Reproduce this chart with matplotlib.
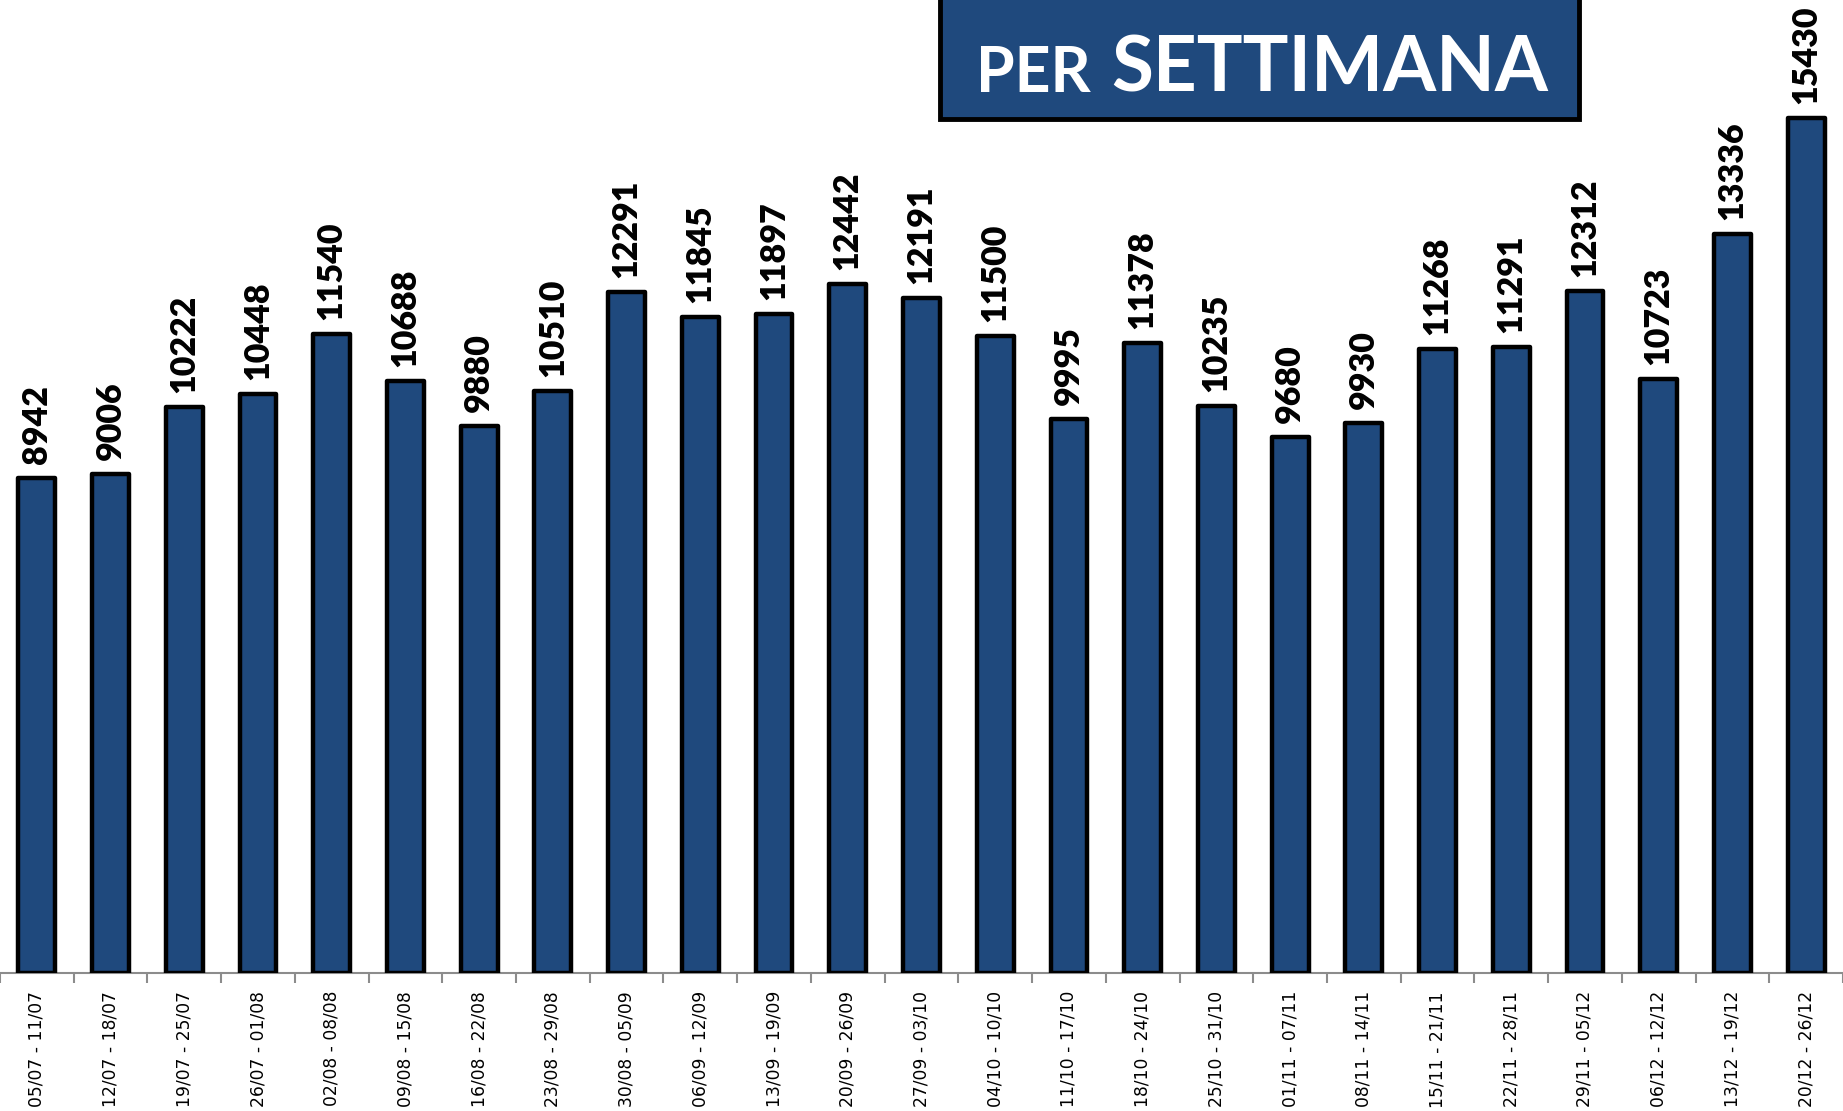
import matplotlib
matplotlib.use("Agg")
import matplotlib.pyplot as plt
from matplotlib.patches import Rectangle

weeks = ["05/07 - 11/07", "12/07 - 18/07", "19/07 - 25/07", "26/07 - 01/08",
         "02/08 - 08/08", "09/08 - 15/08", "16/08 - 22/08", "23/08 - 29/08",
         "30/08 - 05/09", "06/09 - 12/09", "13/09 - 19/09", "20/09 - 26/09",
         "27/09 - 03/10", "04/10 - 10/10", "11/10 - 17/10", "18/10 - 24/10",
         "25/10 - 31/10", "01/11 - 07/11", "08/11 - 14/11", "15/11 - 21/11",
         "22/11 - 28/11", "29/11 - 05/12", "06/12 - 12/12", "13/12 - 19/12",
         "20/12 - 26/12"]
values = [8942, 9006, 10222, 10448, 11540, 10688, 9880, 10510, 12291, 11845,
          11897, 12442, 12191, 11500, 9995, 11378, 10235, 9680, 9930, 11268,
          11291, 12312, 10723, 13336, 15430]
title_small = "PER"
title_big = "SETTIMANA"

BLUE = "#1F497D"

fig = plt.figure(figsize=(18.43, 11.11), dpi=100)
ax = fig.add_axes([0, 0.1242, 1, 0.8758])
x = list(range(len(values)))
bars = ax.bar(x, values, width=0.5, color=BLUE, edgecolor="black",
              linewidth=3.2, joinstyle="round", zorder=3)
for xi, v in zip(x, values):
    ax.annotate(str(v), (xi, v), xytext=(0, 10), textcoords="offset points",
                rotation=90, ha="center", va="bottom", fontsize=24.5,
                fontweight="heavy", family="Lato", color="black")

ax.set_xlim(-0.426, len(values) - 0.5)
ax.set_ylim(0, 17560)
ax.set_yticks([])
for s in ["top", "right", "left"]:
    ax.spines[s].set_visible(False)
ax.spines["bottom"].set_color("#8c8c8c")
ax.spines["bottom"].set_linewidth(1.5)
ax.set_xticks(x)
ax.set_xticklabels(weeks, rotation=90, fontsize=12.3, family="DejaVu Sans")
ax.tick_params(axis="x", which="major", length=0, pad=13)
ax.set_xticks([i + 0.5 for i in range(-1, len(values))], minor=True)
ax.tick_params(axis="x", which="minor", length=7, width=1.5, color="#8c8c8c")

# title box
fig.patches.append(Rectangle((940 / 1843, 1 - 119 / 1111), 639 / 1843, 130 / 1111,
                             transform=fig.transFigure, facecolor=BLUE,
                             edgecolor="black", linewidth=3.5, zorder=5))
t1 = fig.text(0, 1 - 92 / 1111, title_small, fontsize=45, fontweight="bold",
              family="Lato", color="white", ha="left", va="baseline", zorder=6)
t2 = fig.text(0, 1 - 92 / 1111, title_big, fontsize=55, fontweight="bold",
              family="Lato", color="white", ha="left", va="baseline", zorder=6)
fig.canvas.draw()
r = fig.canvas.get_renderer()
w1 = t1.get_window_extent(r).width
w2 = t2.get_window_extent(r).width
gap = 20
total = w1 + gap + w2
cx = 1262
start = cx - total / 2
t1.set_x(start / 1843)
t2.set_x((start + w1 + gap) / 1843)

fig.savefig("out.png", dpi=100)
